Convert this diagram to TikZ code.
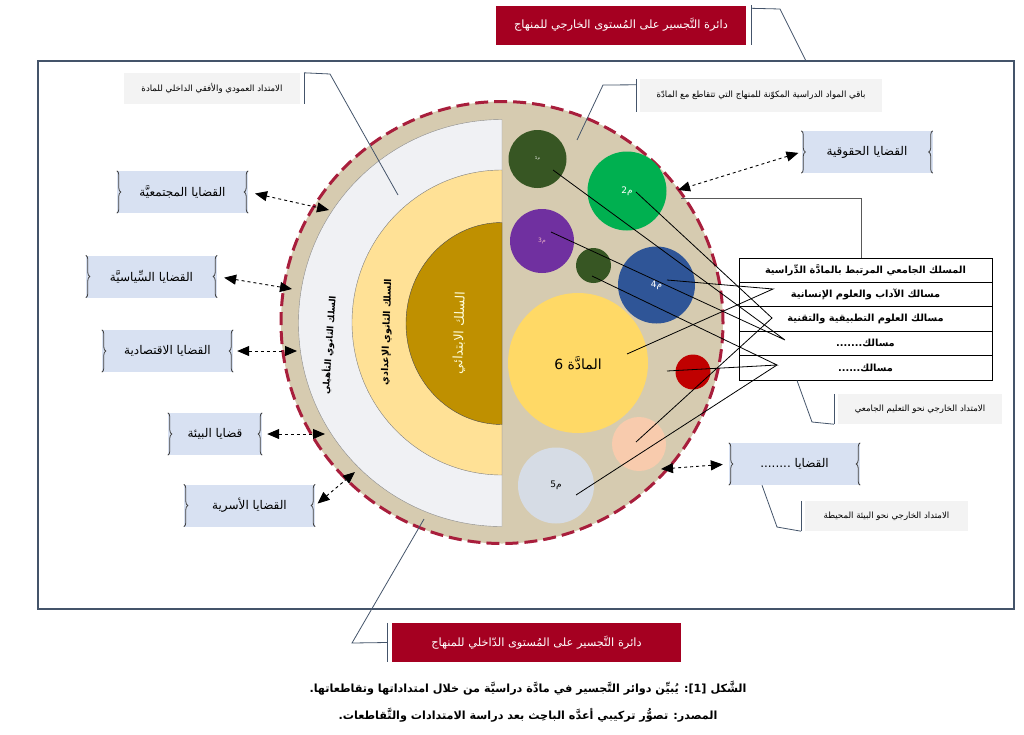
\documentclass[tikz,border=0pt]{standalone}
\usepackage{fontspec}
\usetikzlibrary{arrows.meta,decorations.pathreplacing}
\TeXXeTstate=1
\newfontfamily\arabicfont[Script=Arabic]{DejaVu Sans}
\newcommand{\artext}[1]{\arabicfont\beginR #1\endR}
\definecolor{rimtan}{HTML}{D6CBB0}
\definecolor{rimred}{HTML}{A81E3C}
\definecolor{framblue}{HTML}{44546A}
\definecolor{issueblue}{HTML}{D8E1F2}
\definecolor{notegray}{HTML}{F3F3F3}
\definecolor{titlered}{HTML}{A50021}
\definecolor{cycleone}{HTML}{F0F1F4}
\definecolor{cycletwo}{HTML}{FFE196}
\definecolor{cyclethree}{HTML}{BF9000}
\definecolor{subforest}{HTML}{375623}
\definecolor{subgreen}{HTML}{00B050}
\definecolor{subpurple}{HTML}{7030A0}
\definecolor{subblue}{HTML}{2F5597}
\definecolor{subgold}{HTML}{FFD966}
\definecolor{subred}{HTML}{C00000}
\definecolor{subpeach}{HTML}{F8CBAD}
\definecolor{substeel}{HTML}{D6DCE5}
\tikzset{
  issue/.style={fill=issueblue, minimum width=131pt, minimum height=42pt, inner sep=0pt,
    font=\fontsize{12}{14}\selectfont,
    append after command={
      (\tikzlastnode.north west) edge[bracer] (\tikzlastnode.south west)
      (\tikzlastnode.south east) edge[bracer] (\tikzlastnode.north east)}},
  bracer/.style={draw=black!75, line width=.8pt, decorate, decoration={brace, amplitude=4pt}},
  link/.style={dashed, line width=.9pt, {Triangle[length=12pt,width=10pt]}-{Triangle[length=12pt,width=10pt]}},
  note/.style={fill=notegray, inner sep=0pt, outer xsep=4pt, font=\fontsize{8.6}{10}\selectfont},
  leader/.style={draw=framblue, line width=.8pt},
  title/.style={fill=titlered, text=white, inner sep=0pt, outer xsep=5pt, font=\fontsize{11.4}{13}\selectfont},
  topic/.style={circle, inner sep=0pt, font=\fontsize{9}{11}\selectfont},
  track/.style={draw, line width=1pt, fill=white, minimum width=253pt, minimum height=24.4pt, inner sep=0pt, font=\bfseries\fontsize{9.8}{11}\selectfont},
  tie/.style={draw=black, line width=.8pt}
}
\begin{document}
\begin{tikzpicture}[x=1pt, y=-1pt, node distance=24.4pt]
  \useasboundingbox (0,0) rectangle (1024,734);

  % frame and disc
  \node[draw=framblue, line width=1.6pt, minimum width=976pt, minimum height=548pt, inner sep=0pt] (frame) at (526,335) {};
  \node[circle, fill=rimtan, draw=rimred, line width=3pt, dash pattern=on 13pt off 6pt, minimum size=442pt, inner sep=0pt] (rim) at (502,322.5) {};
  \draw[draw=black!45, fill=cycleone] (502,119.5) arc[start angle=90, end angle=270, radius=203.5pt] -- cycle;
  \draw[draw=black!50, fill=cycletwo] (502,170) arc[start angle=90, end angle=270, x radius=150pt, y radius=152.5pt] -- cycle;
  \draw[draw=black!70, fill=cyclethree] (502,222.5) arc[start angle=90, end angle=270, x radius=96pt, y radius=101pt] -- cycle;
  \node[rotate=86, font=\bfseries\fontsize{8.8}{10}\selectfont] (stageA) at (329,345) {\artext{السلك الثانوي التأهيلي}};
  \node[rotate=88, font=\bfseries\fontsize{9.4}{11}\selectfont] (stageB) at (387,332) {\artext{السلك الثانوي الإعدادي}};
  \node[rotate=88, text=white!85!yellow, font=\fontsize{13}{15}\selectfont] (stageC) at (460,333) {\artext{السلك الابتدائي}};

  % subjects
  \node[topic, fill=subforest, minimum size=58pt, text=white, font=\fontsize{4}{5}\selectfont] (subOne) at (537.5,159) {\artext{م1}};
  \node[topic, fill=subgreen, minimum size=79pt, text=white] (subTwo) at (627,191) {\artext{م2}};
  \node[topic, fill=subpurple, minimum size=64pt, text=white!70!purple, font=\fontsize{6}{7}\selectfont] (subThree) at (542,241) {\artext{م3}};
  \node[topic, fill=subforest, minimum size=35pt] (subSmall) at (593.5,265.5) {};
  \node[topic, fill=subblue, minimum size=77pt, text=white] (subFour) at (656.5,285) {\artext{م4}};
  \node[topic, fill=subgold, minimum size=140pt, font=\fontsize{14}{16}\selectfont] (subMain) at (578,363) {\artext{المادَّة 6}};
  \node[topic, fill=subred, minimum size=35pt] (subRed) at (693,372) {};
  \node[topic, fill=subpeach, minimum size=54pt] (subPeach) at (639,444) {};
  \node[topic, fill=substeel, minimum size=76pt] (subFive) at (556,485.5) {\artext{م5}};

  % track table
  \node[track] (rowA) at (865.5,270.2) {\artext{المسلك الجامعي المرتبط بالمادَّة الدِّراسية}};
  \node[track, below of=rowA] (rowB) {\artext{مسالك الآداب والعلوم الإنسانية}};
  \node[track, below of=rowB] (rowC) {\artext{مسالك العلوم التطبيقية والتقنية}};
  \node[track, below of=rowC] (rowD) {\artext{مسالك.......}};
  \node[track, below of=rowD] (rowE) {\artext{مسالك......}};

  \coordinate (joinA) at (773,289);
  \coordinate (joinB) at (772,318);
  \coordinate (joinC) at (785,340);
  \coordinate (joinD) at (777,365);
  \draw[tie] (553,170) -- (joinC) -- (551,232);
  \draw[tie] (636,192) -- (joinB) -- (636,442);
  \draw[tie] (667,280) -- (joinA) -- (627,354);
  \draw[tie] (592,276) -- (joinD) -- (667,371);
  \draw[tie] (joinD) -- (576,495);

  % issues
  \node[issue] (issSociety) at (182.5,192) {\artext{القضايا المجتمعيَّة}};
  \node[issue] (issPolitics) at (151.5,276.5) {\artext{القضايا السِّياسيَّة}};
  \node[issue] (issEconomy) at (167.5,351) {\artext{القضايا الاقتصادية}};
  \node[issue, minimum width=94pt] (issNature) at (215,434) {\artext{قضايا البيئة}};
  \node[issue] (issFamily) at (249.5,505.5) {\artext{القضايا الأسرية}};
  \node[issue] (issRights) at (867,152) {\artext{القضايا الحقوقية}};
  \node[issue] (issOther) at (794.5,464) {\artext{القضايا ........}};

  \coordinate (rimSociety) at (329,210);
  \coordinate (rimPolitics) at (292,289);
  \coordinate (rimEconomy) at (297,351);
  \coordinate (rimNature) at (325,434);
  \coordinate (rimFamily) at (355,472);
  \coordinate (rimRights) at (678,190);
  \coordinate (rimOther) at (661,469);
  \draw[link, shorten <=7pt] (issSociety.east) -- (rimSociety);
  \draw[link, shorten <=7pt] (issPolitics.east) -- (rimPolitics);
  \draw[link, shorten <=4pt] (issEconomy.east) -- (rimEconomy);
  \draw[link, shorten <=5pt] (issNature.east) -- (rimNature);
  \draw[link, shorten <=3pt] (issFamily.east) -- (rimFamily);
  \draw[link, shorten <=3pt] (issRights.west) -- (rimRights);
  \draw[link, shorten <=6pt] (issOther.west) -- (rimOther);

  % notes
  \node[note, minimum width=176pt, minimum height=31pt] (noteInner) at (212,88.5) {\artext{الامتداد العمودي والأفقي الداخلي للمادة}};
  \node[note, minimum width=242pt, minimum height=33pt] (noteOthers) at (761,95.5) {\artext{باقي المواد الدراسية المكوّنة للمنهاج التي تتقاطع مع المادّة}};
  \node[note, minimum width=164pt, minimum height=30pt] (noteUni) at (920,409) {\artext{الامتداد الخارجي نحو التعليم الجامعي}};
  \node[note, minimum width=163pt, minimum height=30pt] (noteEnv) at (886.5,516) {\artext{الامتداد الخارجي نحو البيئة المحيطة}};

  \draw[leader] (noteInner.north east) -- (noteInner.south east);
  \draw[leader] (noteInner.north east) -- (330,74) -- (398,195);
  \draw[leader] (noteOthers.north west) -- (noteOthers.south west);
  \draw[leader] (noteOthers.north west) ++(0,6) -- (603,85) -- (577,140);
  \draw[leader] (noteUni.north west) -- (noteUni.south west);
  \draw[leader] (noteUni.south west) -- (812,422) -- ([xshift=-68.5pt]rowE.south);
  \draw[leader] (noteEnv.north west) -- (noteEnv.south west);
  \draw[leader] (noteEnv.south west) -- (777,527) -- ([xshift=-32.5pt]issOther.south);
  \coordinate (discEdge) at (681,198);
  \draw[draw=black!65, line width=.8pt] (discEdge) -- (861,198) -- (861,258);

  % titles
  \node[title, minimum width=250pt, minimum height=39pt] (titleOuter) at (621,25) {\artext{دائرة التَّجسير على المُستوى الخارجي للمنهاج}};
  \node[title, minimum width=289pt, minimum height=39pt] (titleInner) at (536.5,642.5) {\artext{دائرة التَّجسير على المُستوى الدّاخلي للمنهاج}};
  \draw[leader] (titleOuter.north east) -- (titleOuter.south east);
  \draw[leader] (titleOuter.north east) ++(0,3) -- (780,9) -- (806,61);
  \draw[leader] (titleInner.north west) -- (titleInner.south west);
  \draw[leader] (titleInner.west) -- (352,643) -- (424,519);

  % caption
  \node[font=\bfseries\fontsize{11.2}{13}\selectfont] (capA) at (528,688) {\artext{الشَّكل [1]: يُبيِّن دوائر التَّجسير في مادَّة دراسيَّة من خلال امتداداتها وتقاطعاتها.}};
  \node[font=\bfseries\fontsize{11.2}{13}\selectfont] (capB) at (528,715) {\artext{المصدر: تصوُّر تركيبي أعدَّه الباحِث بعد دراسة الامتدادات والتَّقاطعات.}};
\end{tikzpicture}
\end{document}
